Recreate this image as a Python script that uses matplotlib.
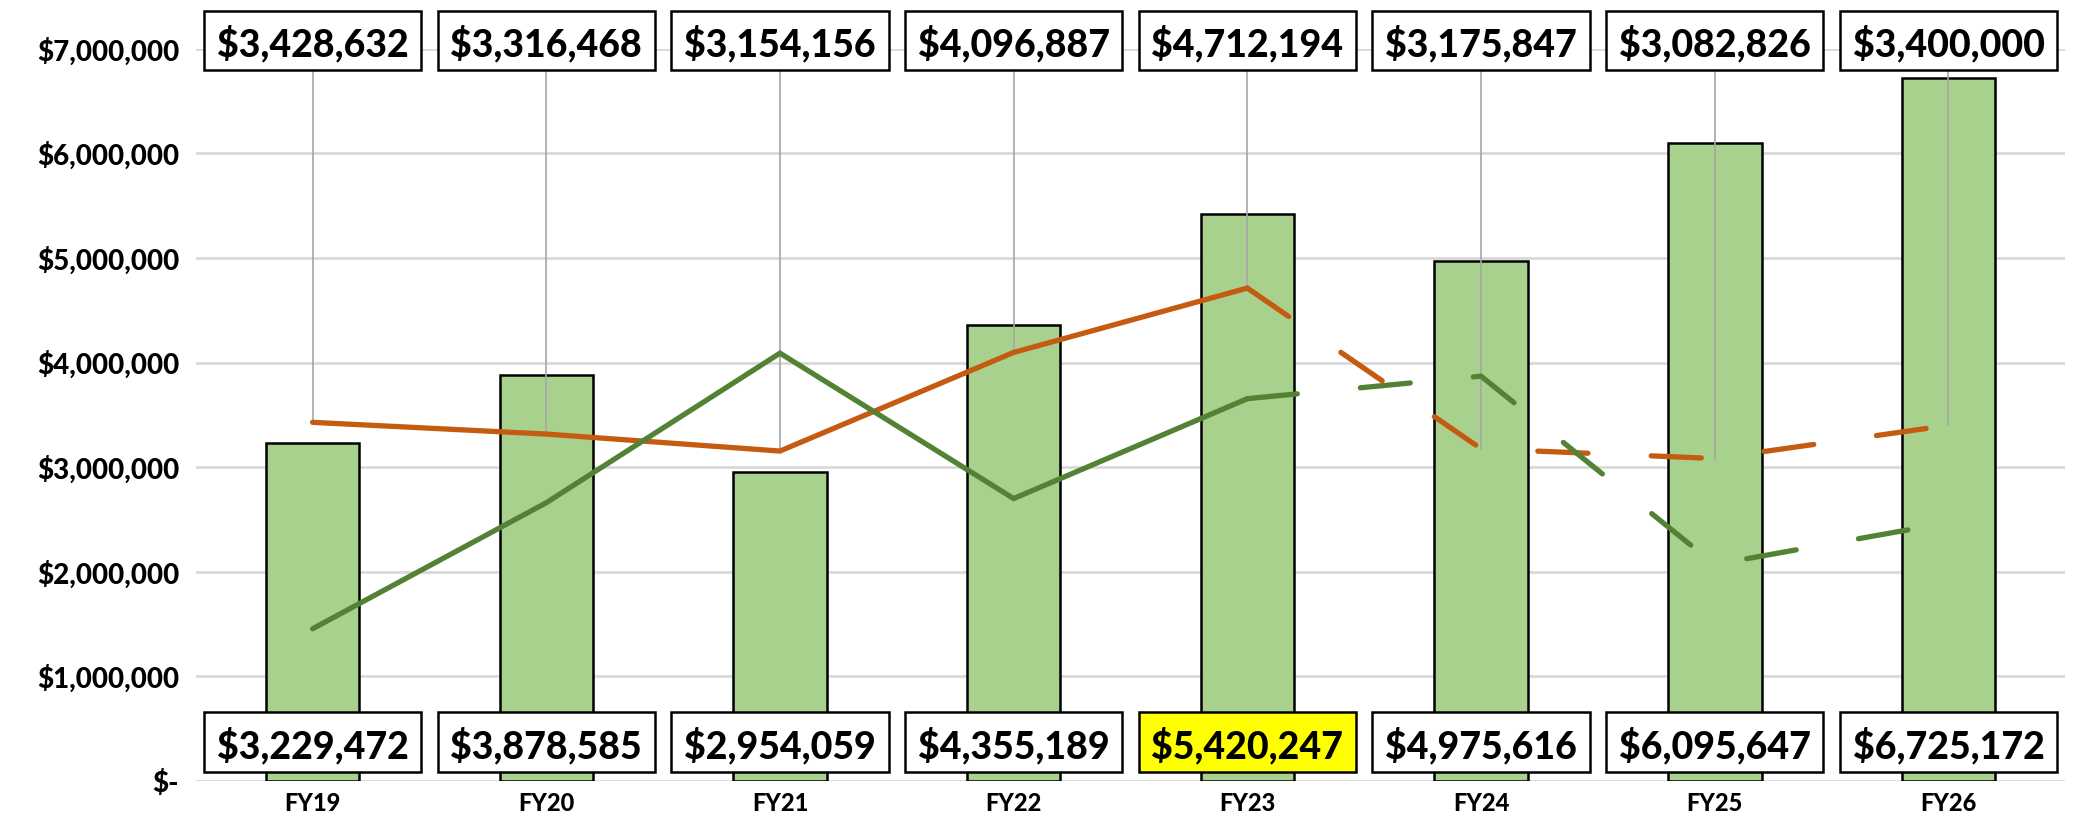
import numpy as np
import matplotlib
matplotlib.use("Agg")
import matplotlib.pyplot as plt
from matplotlib.patches import Rectangle

# ---------------- DATA ---------------- #
years = ["FY19", "FY20", "FY21", "FY22", "FY23", "FY24", "FY25", "FY26"]
bar_values = [3229472, 3878585, 2954059, 4355189, 5420247, 4975616, 6095647, 6725172]
orange_values = [3428632, 3316468, 3154156, 4096887, 4712194, 3175847, 3082826, 3400000]
green_values = [1455000, 2660000, 4090000, 2700000, 3655000, 3870000, 2070000, 2470000]
y_ticks = [0, 1000000, 2000000, 3000000, 4000000, 5000000, 6000000, 7000000]
highlight = "FY23"

plt.rcParams["font.family"] = ["Lato", "DejaVu Sans"]

BAR = "#a9d18e"
ORANGE = "#c55a11"
GREEN = "#548235"
GRID = "#d9d9d9"
HEAVY = 900

fig = plt.figure(figsize=(20.82, 8.13), dpi=100)
ax = fig.add_axes([0.094, 0.0394, 0.898, 0.9006])

x = np.arange(len(years))
split = years.index(highlight)

ax.bar(x, bar_values, width=0.4, color=BAR, edgecolor="black", linewidth=1.8, zorder=2)

# solid part, then dashed projection
for vals, col in [(orange_values, ORANGE), (green_values, GREEN)]:
    ax.plot(x[:split + 1], vals[:split + 1], color=col, linewidth=3.8,
            solid_capstyle="round", solid_joinstyle="miter", zorder=4)
    ax.plot(x[split:], vals[split:], color=col, linewidth=3.8,
            dashes=(9.5, 12), dash_capstyle="round", zorder=4)

top_y = 7080000
bottom_y = 370000
box_w = 0.93
box_h = 570000


def boxed_label(xc, yc, text, fc):
    ax.add_patch(Rectangle((xc - box_w / 2, yc - box_h / 2), box_w, box_h,
                           facecolor=fc, edgecolor="black", linewidth=1.8,
                           zorder=6, clip_on=False))
    ax.text(xc, yc, text, fontsize=27, fontweight=HEAVY, ha="center",
            va="center_baseline", zorder=7, clip_on=False)


for i in range(len(years)):
    # leader line from top label to orange point
    ax.plot([x[i], x[i]], [orange_values[i], top_y], color="#a6a6a6",
            linewidth=1.2, zorder=3, clip_on=False)
    boxed_label(x[i], top_y, f"${orange_values[i]:,}", "white")
    fc = "#ffff00" if years[i] == highlight else "white"
    boxed_label(x[i], bottom_y, f"${bar_values[i]:,}", fc)

ax.set_xlim(-0.5, len(years) - 0.5)
ax.set_ylim(0, 7000000)
ax.set_xticks(x)
ax.set_xticklabels(years, fontsize=17, fontweight=HEAVY)
ax.set_yticks(y_ticks)
ax.set_yticklabels([f"${v:,}" if v else "$-" for v in y_ticks],
                   fontsize=20, fontweight=HEAVY)
ax.tick_params(length=0, pad=12)
ax.tick_params(axis="x", pad=8)

ax.grid(axis="y", color=GRID, linewidth=2, zorder=0)
ax.set_axisbelow(True)
for s in ax.spines.values():
    s.set_visible(False)

plt.savefig("out.png", dpi=100)
